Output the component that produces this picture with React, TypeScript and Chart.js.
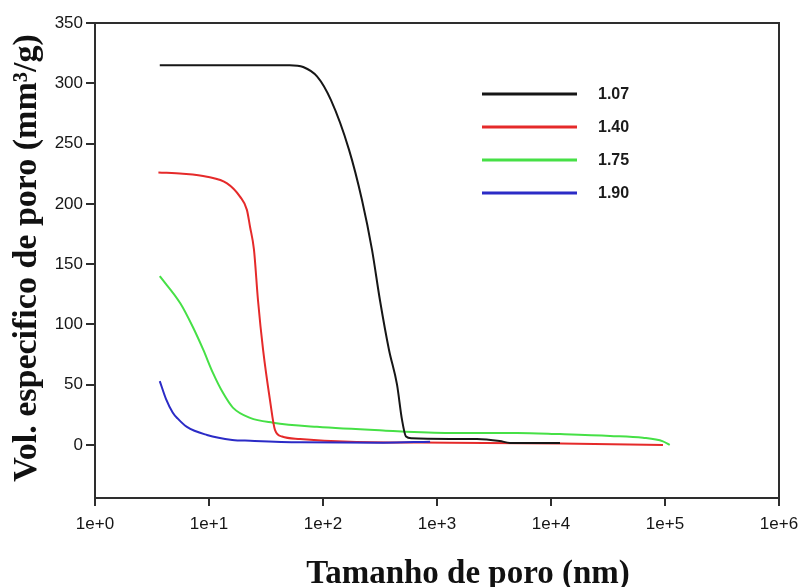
import React, { useEffect, useRef } from 'react';
import { Chart, registerables } from 'chart.js';

Chart.register(...registerables);

const SERIES_LABELS = ['1.07', '1.40', '1.75', '1.90'];
const SERIES_COLORS = ['#161616', '#e52a2a', '#46e046', '#2b2bc6'];

const X_TICKS = [1, 10, 100, 1000, 10000, 100000, 1000000];
const X_TICK_LABELS = ['1e+0', '1e+1', '1e+2', '1e+3', '1e+4', '1e+5', '1e+6'];
const Y_TICKS = [0, 50, 100, 150, 200, 250, 300, 350];

const X_TITLE = 'Tamanho de poro (nm)';
const Y_TITLE = 'Vol. especifico de poro (mm³/g)';

// 1.07
const X_107 = [3.7, 51, 67, 89, 117.5, 169, 220, 269, 316, 379, 446, 493, 535, 600, 1300, 2240, 3550, 4360, 12000];
const Y_107 = [315, 315, 313.5, 305.5, 286, 245, 203, 162, 120, 79, 50, 21, 7, 5.5, 5, 5, 3.3, 1.7, 1.7];
// 1.40
const X_140 = [3.6, 5.9, 9.6, 14.4, 18.7, 21.5, 22.9, 24.8, 26.9, 29.8, 34.3, 37.9, 43.7, 62.8, 173, 1300, 12000, 96000];
const Y_140 = [226, 225, 222.5, 217, 206, 195, 181, 162, 120, 79, 37, 12.5, 7, 5, 2.7, 1.9, 1.2, 0];
// 1.75
const X_175 = [3.7, 5.6, 7.2, 8.9, 10.8, 13.3, 16.2, 22.9, 36.4, 88.6, 336, 1300, 5040, 12000, 33000, 64000, 96000, 110000];
const Y_175 = [140, 117.5, 98, 79, 60, 43, 31, 22.5, 18.5, 15, 12, 10, 10, 9, 7.5, 6, 3, 0];
// 1.90
const X_190 = [3.7, 4.2, 4.8, 5.3, 6.4, 9.6, 16, 23, 63, 336, 870];
const Y_190 = [53, 38, 27, 22, 15, 8.3, 4.2, 3.5, 2.2, 1.9, 2.7];

const SERIES_X = [X_107, X_140, X_175, X_190];
const SERIES_Y = [Y_107, Y_140, Y_175, Y_190];
const DRAW_ORDER = [1, 2, 3, 0];

const AXIS_COLOR = '#2e2e2e';
const TICK_FONT = { family: '"Liberation Sans", Arial, sans-serif', size: 17 };

const framePlugin = {
  id: 'frameTitlesLegend',
  afterDraw(chart: any) {
    const { ctx, chartArea } = chart;
    ctx.save();
    ctx.strokeStyle = AXIS_COLOR;
    ctx.lineWidth = 2;
    ctx.beginPath();
    ctx.moveTo(chartArea.left, chartArea.top);
    ctx.lineTo(chartArea.right, chartArea.top);
    ctx.lineTo(chartArea.right, chartArea.bottom);
    ctx.stroke();

    // axis titles
    ctx.fillStyle = '#111111';
    ctx.font = 'bold 33px "Liberation Serif", "Times New Roman", serif';
    ctx.textAlign = 'center';
    ctx.textBaseline = 'alphabetic';
    ctx.fillText(X_TITLE, 468, 583);

    ctx.save();
    ctx.translate(36, 258);
    ctx.rotate(-Math.PI / 2);
    ctx.font = 'bold 34px "Liberation Serif", "Times New Roman", serif';
    ctx.fillText(Y_TITLE, 0, 0);
    ctx.restore();

    // legend
    ctx.font = 'bold 16px "Liberation Sans", Arial, sans-serif';
    ctx.textAlign = 'left';
    ctx.textBaseline = 'middle';
    SERIES_LABELS.forEach((label, i) => {
      const y = 94 + 33 * i;
      ctx.strokeStyle = SERIES_COLORS[i];
      ctx.lineWidth = 3;
      ctx.beginPath();
      ctx.moveTo(482, y);
      ctx.lineTo(577, y);
      ctx.stroke();
      ctx.fillStyle = '#1a1a1a';
      ctx.fillText(label, 598, y + 1);
    });
    ctx.restore();
  },
};

export default function App() {
  const canvasRef = useRef<HTMLCanvasElement | null>(null);

  useEffect(() => {
    if (!canvasRef.current) return;
    const datasets = SERIES_LABELS.map((label, i) => ({
      label,
      data: SERIES_X[i].map((x, j) => ({ x, y: SERIES_Y[i][j] })),
      borderColor: SERIES_COLORS[i],
      backgroundColor: SERIES_COLORS[i],
      borderWidth: 2,
      pointRadius: 0,
      fill: false,
      cubicInterpolationMode: 'monotone' as const,
      order: DRAW_ORDER[i],
    }));

    const chart = new Chart(canvasRef.current, {
      type: 'line',
      data: { datasets },
      options: {
        animation: false,
        responsive: false,
        maintainAspectRatio: false,
        layout: { padding: { top: 23, right: 24, left: 0, bottom: 0 } },
        plugins: {
          legend: { display: false },
          tooltip: { enabled: false },
        },
        scales: {
          x: {
            type: 'logarithmic',
            min: 1,
            max: 1000000,
            afterBuildTicks: (scale: any) => {
              scale.ticks = X_TICKS.map((v) => ({ value: v }));
            },
            afterFit: (scale: any) => {
              scale.height = 89;
              scale.paddingLeft = 0;
              scale.paddingRight = 0;
            },
            ticks: {
              autoSkip: false,
              maxRotation: 0,
              minRotation: 0,
              padding: 8,
              color: '#151515',
              font: TICK_FONT,
              callback: (_v: any, i: number) => X_TICK_LABELS[i],
            },
            grid: {
              display: true,
              drawOnChartArea: false,
              drawTicks: true,
              tickLength: 8,
              color: AXIS_COLOR,
              lineWidth: 2,
            },
            border: { display: true, color: AXIS_COLOR, width: 2 },
          },
          y: {
            type: 'linear',
            min: -44,
            max: 350,
            afterBuildTicks: (scale: any) => {
              scale.ticks = Y_TICKS.map((v) => ({ value: v }));
            },
            afterFit: (scale: any) => {
              scale.width = 95;
              scale.paddingTop = 0;
              scale.paddingBottom = 0;
            },
            ticks: {
              padding: 3,
              color: '#151515',
              font: TICK_FONT,
              callback: (v: any) => String(v),
            },
            grid: {
              display: true,
              drawOnChartArea: false,
              drawTicks: true,
              tickLength: 9,
              color: AXIS_COLOR,
              lineWidth: 2,
            },
            border: { display: true, color: AXIS_COLOR, width: 2 },
          },
        },
      },
      plugins: [framePlugin],
    });
    return () => chart.destroy();
  }, []);

  return (
    <div style={{ position: 'absolute', left: 0, top: 0, width: 803, height: 587, background: '#ffffff' }}>
      <canvas ref={canvasRef} width={803} height={587} />
    </div>
  );
}
